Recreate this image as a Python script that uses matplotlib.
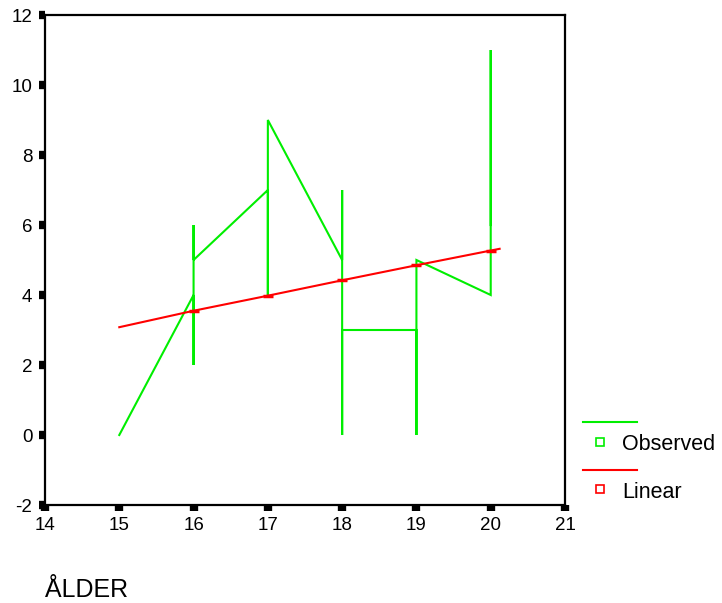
import matplotlib
matplotlib.use("Agg")
import matplotlib.pyplot as plt
from matplotlib.lines import Line2D

plt.rcParams['font.family'] = ['Liberation Sans', 'DejaVu Sans']

# Observed path (data order, sorted by age)
obs_x = [15, 16, 16, 16, 16, 17, 17, 17, 18, 18, 18, 18, 19, 19, 19, 20, 20, 20]
obs_y = [0, 4, 2, 6, 5, 7, 4, 9, 5, 7, 0, 3, 3, 0, 5, 4, 11, 6]

# Linear fit
lin_x = [15, 16, 17, 18, 19, 20, 20.12]
lin_y = [3.08, 3.55, 3.98, 4.42, 4.85, 5.27, 5.32]

x_ticks = [14, 15, 16, 17, 18, 19, 20, 21]
y_ticks = [-2, 0, 2, 4, 6, 8, 10, 12]

fig = plt.figure(figsize=(7.22, 6.03), dpi=100)
ax = fig.add_axes([45/722, 1-505/603, 520/722, 490/603])

ax.plot(obs_x, obs_y, color='#00ee00', lw=1.5, solid_joinstyle='miter')
ax.plot(lin_x, lin_y, color='#ff0000', lw=1.5)
ax.plot(lin_x[1:-1], lin_y[1:-1], ls='none', marker='_', ms=7, mew=2.5, color='#ff0000')

ax.set_xlim(14, 21)
ax.set_ylim(-2, 12)
ax.set_xticks(x_ticks)
ax.set_yticks(y_ticks)
ax.set_xticklabels([str(v) for v in x_ticks])
ax.set_yticklabels([str(v) for v in y_ticks])
ax.tick_params(direction='out', length=4, width=6, color='black', labelsize=13.5, pad=5)
for s in ax.spines.values():
    s.set_linewidth(1.6)
    s.set_color('black')

# Axis label
fig.text(45/722, 1-590/603, 'ÅLDER', fontsize=18, ha='left', va='center')

# Legend (SPSS style)
def fx(p):
    return p/722
def fy(p):
    return 1-p/603

fig.add_artist(Line2D([fx(583), fx(637)], [fy(422), fy(422)], color='#00ee00', lw=1.5))
fig.add_artist(Line2D([fx(600)], [fy(442)], marker='s', ms=6, mfc='none', mec='#00ee00', mew=1.2, ls='none'))
fig.text(fx(622), fy(444), 'Observed', fontsize=15.5, ha='left', va='center')
fig.add_artist(Line2D([fx(583), fx(637)], [fy(470), fy(470)], color='#ff0000', lw=1.5))
fig.add_artist(Line2D([fx(600)], [fy(489)], marker='s', ms=6, mfc='none', mec='#ff0000', mew=1.2, ls='none'))
fig.text(fx(622), fy(493), 'Linear', fontsize=15.5, ha='left', va='center')

fig.savefig('out.png', dpi=100)
